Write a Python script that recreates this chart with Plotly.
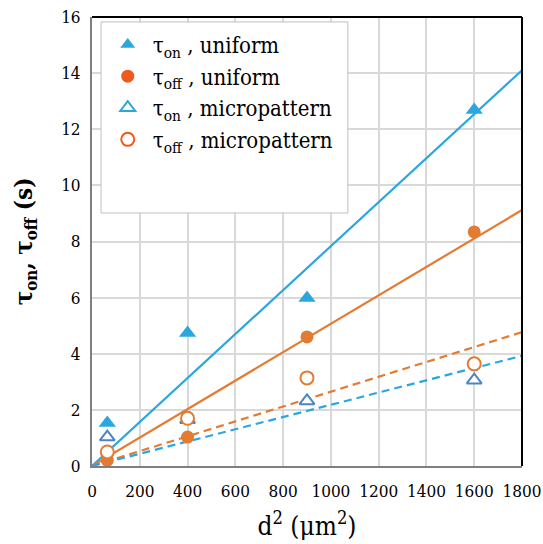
import numpy as np
import plotly.graph_objects as go

# Data
d2 = [64, 400, 900, 1600]
ton_uniform = [1.53, 4.74, 5.99, 12.69]
toff_uniform = [0.20, 1.03, 4.60, 8.34]
ton_micro = [1.03, 1.65, 2.32, 3.06]
toff_micro = [0.50, 1.70, 3.14, 3.64]

x_max = 1800
y_max = 16

BLUE = "#2AA7DF"
ORANGE = "#E37B33"
STEEL = "#4F84C4"
LEG_ORANGE = "#EE5A1E"

FONT = "DejaVu Serif Condensed, DejaVu Serif, serif"

def fit_origin(x, y):
    x = np.asarray(x, float); y = np.asarray(y, float)
    return float((x * y).sum() / (x * x).sum())

fig = go.Figure()

# Trend lines (least squares through origin)
fits = [
    (ton_uniform, BLUE, "solid"),
    (toff_uniform, ORANGE, "solid"),
    (toff_micro, ORANGE, "dash"),
    (ton_micro, BLUE, "dash"),
]
for ys, col, dash in fits:
    k = fit_origin(d2, ys)
    xs = [0, x_max]
    fig.add_trace(go.Scatter(x=xs, y=[k * v for v in xs], mode="lines",
                             line=dict(color=col, width=2.2, dash="solid" if dash == "solid" else "8px,5px"),
                             showlegend=False, hoverinfo="skip"))

# Data markers
fig.add_trace(go.Scatter(x=d2, y=ton_micro, mode="markers", showlegend=False,
                         marker=dict(symbol="triangle-up", size=13, color="white",
                                     line=dict(color=STEEL, width=2))))
fig.add_trace(go.Scatter(x=d2, y=toff_uniform, mode="markers", showlegend=False,
                         marker=dict(symbol="circle", size=13, color=ORANGE,
                                     line=dict(color=ORANGE, width=0))))
fig.add_trace(go.Scatter(x=d2, y=toff_micro, mode="markers", showlegend=False,
                         marker=dict(symbol="circle", size=13, color="white",
                                     line=dict(color=ORANGE, width=2))))
fig.add_trace(go.Scatter(x=d2, y=ton_uniform, mode="markers", showlegend=False,
                         marker=dict(symbol="triangle-up", size=15, color=BLUE,
                                     line=dict(color=BLUE, width=0))))

# Legend entries
legend_items = [
    ("τ<sub>on</sub> , uniform", dict(symbol="triangle-up", size=13, color=BLUE, line=dict(width=0))),
    ("τ<sub>off</sub> , uniform", dict(symbol="circle", size=13, color=LEG_ORANGE, line=dict(width=0))),
    ("τ<sub>on</sub> , micropattern", dict(symbol="triangle-up-open", size=13, color=BLUE, line=dict(width=2))),
    ("τ<sub>off</sub> , micropattern", dict(symbol="circle-open", size=13, color=LEG_ORANGE, line=dict(width=2))),
]
for name, mk in legend_items:
    fig.add_trace(go.Scatter(x=[None], y=[None], mode="markers", name=name, marker=mk))

axis_common = dict(
    showgrid=True, gridcolor="#D9D9D9", gridwidth=2,
    showline=True, linecolor="#7F7F7F", linewidth=2,
    ticks="", zeroline=False, automargin=False, tickangle=0,
    tickfont=dict(family=FONT, size=17, color="black"),
)

fig.update_layout(
    width=543, height=544,
    margin=dict(l=92, r=21, t=17, b=78),
    paper_bgcolor="white", plot_bgcolor="white",
    font=dict(family=FONT, color="black"),
    xaxis=dict(range=[0, x_max], dtick=200, tick0=0, ticklabelstandoff=9,
               title=dict(text="d<sup>2</sup> (μm<sup>2</sup>)", font=dict(family=FONT, size=26), standoff=16),
               **axis_common),
    yaxis=dict(range=[0, y_max], dtick=2, tick0=0, ticklabelstandoff=6,
               title=dict(text="<b>τ<sub>on</sub>, τ<sub>off</sub> (s)</b>", font=dict(family=FONT, size=24), standoff=22),
               **axis_common),
    legend=dict(x=0.025, y=0.985, xanchor="left", yanchor="top",
                bgcolor="rgba(0,0,0,0)", borderwidth=0,
                font=dict(family=FONT, size=22, color="black"),
                tracegroupgap=0, itemwidth=40),
    shapes=[
        dict(type="rect", xref="paper", yref="paper", x0=0.021, x1=0.595, y0=0.5635, y1=0.989,
             line=dict(color="#BFBFBF", width=1), fillcolor="white", layer="above"),
        dict(type="line", xref="paper", yref="paper", x0=0, x1=1, y0=1, y1=1,
             line=dict(color="black", width=2)),
        dict(type="line", xref="paper", yref="paper", x0=1, x1=1, y0=0, y1=1,
             line=dict(color="black", width=2)),
    ],
)

fig.write_html("out.html")
